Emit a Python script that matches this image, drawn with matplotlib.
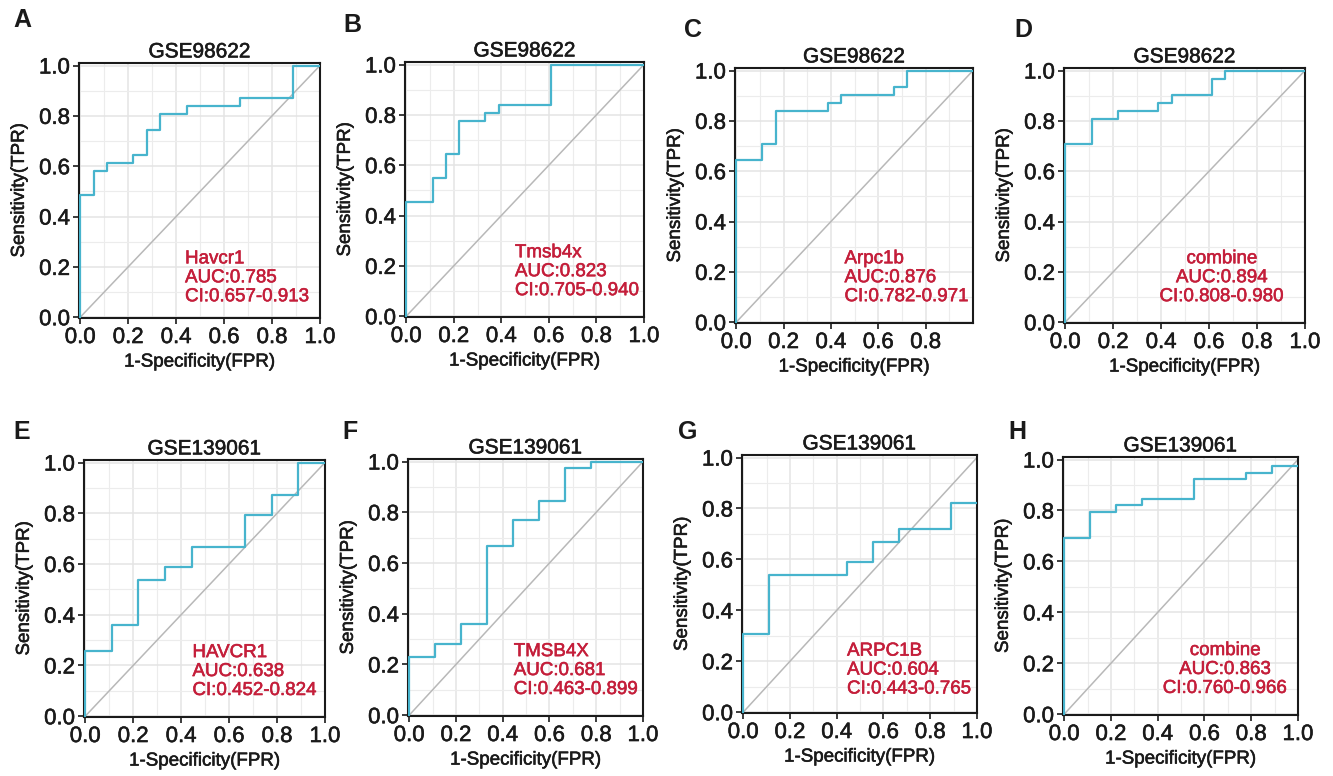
import numpy as np
import matplotlib
matplotlib.use("Agg")
import matplotlib.pyplot as plt
import matplotlib.patheffects as pe
from matplotlib.text import Text

plt.rcParams['font.family'] = ['Liberation Sans', 'DejaVu Sans']

# ROC curve corner points (FPR, TPR) for each panel
letters = ['A', 'B', 'C', 'D', 'E', 'F', 'G', 'H']
datasets = ['GSE98622'] * 4 + ['GSE139061'] * 4
genes = ['Havcr1', 'Tmsb4x', 'Arpc1b', 'combine',
         'HAVCR1', 'TMSB4X', 'ARPC1B', 'combine']
aucs = ['0.785', '0.823', '0.876', '0.894', '0.638', '0.681', '0.604', '0.863']
cis = ['0.657-0.913', '0.705-0.940', '0.782-0.971', '0.808-0.980',
       '0.452-0.824', '0.463-0.899', '0.443-0.765', '0.760-0.966']

fpr_a = [0, 0, 0.056, 0.111, 0.222, 0.278, 0.333, 0.444, 0.667, 0.889, 1.0]
tpr_a = [0, 0.484, 0.581, 0.613, 0.645, 0.742, 0.806, 0.839, 0.871, 1.0, 1.0]
fpr_b = [0, 0, 0.111, 0.167, 0.222, 0.333, 0.389, 0.611, 1.0]
tpr_b = [0, 0.452, 0.548, 0.645, 0.774, 0.806, 0.839, 1.0, 1.0]
fpr_c = [0, 0, 0.111, 0.167, 0.389, 0.444, 0.667, 0.722, 1.0]
tpr_c = [0, 0.645, 0.710, 0.839, 0.871, 0.903, 0.935, 1.0, 1.0]
fpr_d = [0, 0, 0.111, 0.222, 0.389, 0.444, 0.611, 0.667, 1.0]
tpr_d = [0, 0.710, 0.806, 0.839, 0.871, 0.903, 0.968, 1.0, 1.0]
fpr_e = [0, 0, 0.111, 0.222, 0.333, 0.444, 0.667, 0.778, 0.889, 1.0]
tpr_e = [0, 0.256, 0.359, 0.538, 0.590, 0.667, 0.795, 0.872, 1.0, 1.0]
fpr_f = [0, 0, 0.111, 0.222, 0.333, 0.444, 0.556, 0.667, 0.778, 1.0]
tpr_f = [0, 0.231, 0.282, 0.359, 0.667, 0.769, 0.846, 0.974, 1.0, 1.0]
fpr_g = [0, 0, 0.111, 0.444, 0.556, 0.667, 0.889, 1.0]
tpr_g = [0, 0.308, 0.538, 0.590, 0.667, 0.718, 0.821, 0.821]
fpr_h = [0, 0, 0.111, 0.222, 0.333, 0.556, 0.778, 0.889, 1.0]
tpr_h = [0, 0.692, 0.795, 0.821, 0.846, 0.923, 0.949, 0.974, 0.974]

fprs = [fpr_a, fpr_b, fpr_c, fpr_d, fpr_e, fpr_f, fpr_g, fpr_h]
tprs = [tpr_a, tpr_b, tpr_c, tpr_d, tpr_e, tpr_f, tpr_g, tpr_h]

W, H = 1333, 776
# axes boxes in pixels: left, right, top, bottom
boxes = [(79, 320, 63, 318), (405, 644, 62, 317), (735, 973, 68, 323), (1064, 1305, 68, 323),
         (84, 325, 460, 717), (408, 643, 459, 716), (742, 977, 455, 713), (1063, 1298, 457, 715)]
letter_pos = [(22, 20), (352, 25), (693, 30), (1023, 30),
              (22, 432), (350, 432), (688, 432), (1017, 432)]
text_x = [0.44, 0.46, 0.46, 0.655, 0.45, 0.45, 0.447, 0.69]
text_y = [0.05, 0.07, 0.07, 0.07, 0.07, 0.07, 0.06, 0.07]
text_ha = ['left', 'left', 'left', 'center', 'left', 'left', 'left', 'center']

line_color = '#47b4cd'
text_color = '#c41e3a'
ink = '#1a1a1a'

fig = plt.figure(figsize=(W / 100, H / 100), dpi=100)

for i in range(8):
    l, r, t, b = boxes[i]
    ax = fig.add_axes([l / W, 1 - b / H, (r - l) / W, (b - t) / H])
    ax.set_xlim(-0.005, 1.0)
    ax.set_ylim(-0.003, 1.01)

    xt = [0, 0.2, 0.4, 0.6, 0.8] if letters[i] == 'C' else [0, 0.2, 0.4, 0.6, 0.8, 1.0]
    ax.set_xticks(xt)
    ax.set_yticks([0, 0.2, 0.4, 0.6, 0.8, 1.0])
    ax.set_xticks(np.arange(0.1, 1.0, 0.2), minor=True)
    ax.set_yticks(np.arange(0.1, 1.0, 0.2), minor=True)
    ax.xaxis.set_major_formatter(matplotlib.ticker.FormatStrFormatter('%.1f'))
    ax.yaxis.set_major_formatter(matplotlib.ticker.FormatStrFormatter('%.1f'))
    ax.tick_params(which='major', length=4, width=1.2, labelsize=16, pad=2.5,
                   color=ink, labelcolor=ink)
    ax.tick_params(which='minor', length=0)
    ax.grid(True, which='major', color='#e4e4e4', linewidth=1.1)
    ax.grid(True, which='minor', color='#ececec', linewidth=0.8)
    ax.set_axisbelow(True)
    if letters[i] == 'C':
        ax.axvline(1.0, color='#e4e4e4', linewidth=1.1, zorder=0)
    for sp in ax.spines.values():
        sp.set_linewidth(1.5)
        sp.set_color(ink)

    ax.plot([0, 1], [0, 1], color='#b8b8b8', linewidth=1.1, zorder=2)
    ax.step(fprs[i], tprs[i], where='post', color=line_color, linewidth=1.6, zorder=3)

    ax.set_title(datasets[i], fontsize=15, pad=4, color=ink)
    ax.set_xlabel('1-Specificity(FPR)', fontsize=13.5, labelpad=4, color=ink)
    ax.set_ylabel('Sensitivity(TPR)', fontsize=13.5, labelpad=8, color=ink)

    ax.text(text_x[i], text_y[i], f'{genes[i]}\nAUC:{aucs[i]}\nCI:{cis[i]}',
            transform=ax.transAxes, ha=text_ha[i], va='bottom',
            multialignment='center' if text_ha[i] == 'center' else 'left',
            fontsize=13.5, color=text_color, linespacing=1.15)

    fig.text(letter_pos[i][0] / W, 1 - letter_pos[i][1] / H, letters[i],
             fontsize=18, fontweight='bold', ha='center', va='center', color=ink)

# slightly heavier text strokes
for txt in fig.findobj(Text):
    if not txt.get_fontweight() == 'bold':
        txt.set_path_effects([pe.Stroke(linewidth=0.4), pe.Normal()])

fig.savefig('out.png', dpi=100)
